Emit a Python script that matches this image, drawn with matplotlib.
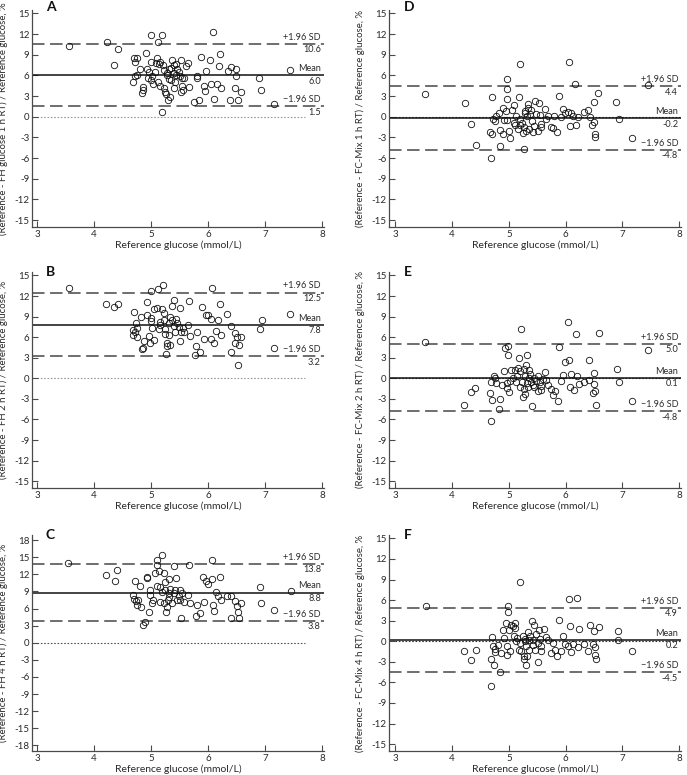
import matplotlib
matplotlib.use("Agg")
import matplotlib.pyplot as plt
import matplotlib.transforms as mtransforms

plt.rcParams['font.family'] = ['Lato', 'DejaVu Sans']
plt.rcParams['axes.unicode_minus'] = False
plt.rcParams['lines.scale_dashes'] = False

# ---- data ----
A_x = [3.56, 4.22, 4.42, 4.35, 4.70, 4.72, 4.75, 4.91, 5.11, 4.99,
       5.00, 5.19, 5.12, 6.09, 4.68, 4.71, 4.76, 4.81, 4.86, 4.85,
       4.84, 4.93, 4.96, 4.95, 5.00, 5.03, 5.12, 5.15, 5.22, 5.24,
       5.26, 5.30, 5.33, 5.19, 5.40, 5.42, 5.54, 5.53, 5.56, 5.66,
       5.75, 5.84, 5.92, 5.95, 6.05, 6.15, 6.23, 6.10, 6.39, 6.53,
       6.48, 6.57, 6.90, 6.93, 7.15, 7.44, 6.35, 6.40, 6.49, 6.49,
       6.19, 6.20, 6.04, 5.88, 5.97, 5.81, 5.80, 5.64, 5.62, 5.52,
       5.57, 5.44, 5.46, 5.49, 5.51, 5.54, 5.37, 5.40, 5.35, 5.31,
       5.27, 5.28, 5.31, 5.35, 5.23, 5.21, 5.16, 5.13, 5.08, 5.40,
       5.43, 5.06, 5.02]
A_y = [10.3, 10.9, 9.9, 7.45, 8.6, 8.0, 8.5, 9.2, 8.5, 8.0,
       11.8, 11.8, 10.9, 12.3, 5.1, 5.9, 6.0, 7.0, 4.35, 3.9,
       3.4, 7.0, 6.5, 5.7, 5.3, 4.7, 5.1, 4.5, 4.2, 3.6,
       3.3, 2.4, 2.9, 0.7, 4.2, 5.1, 4.45, 3.6, 3.9, 4.3,
       2.2, 2.5, 4.5, 3.8, 4.75, 4.75, 4.25, 2.65, 2.4, 2.4,
       4.25, 3.6, 5.65, 3.85, 1.9, 6.8, 6.6, 7.2, 7.0, 5.9,
       7.35, 9.05, 8.2, 8.7, 6.7, 5.9, 5.65, 7.85, 7.35, 8.3,
       5.65, 7.7, 6.9, 6.5, 5.9, 5.7, 8.3, 7.45, 7.05, 6.9,
       6.4, 6.0, 5.55, 5.3, 6.8, 7.45, 7.9, 7.65, 7.8, 6.4,
       6.05, 6.5, 5.9]

B_x = [3.56, 4.20, 4.35, 4.42, 4.70, 4.73, 4.68, 4.68, 4.72, 4.76,
       4.76, 4.82, 4.86, 4.84, 4.87, 4.92, 4.93, 4.96, 4.98, 5.00,
       4.99, 5.00, 5.02, 5.05, 5.05, 5.11, 5.12, 5.13, 5.15, 5.16,
       5.19, 5.21, 5.22, 5.23, 5.25, 5.25, 5.26, 5.27, 5.28, 5.31,
       5.33, 5.31, 5.34, 5.37, 5.40, 5.37, 5.40, 5.42, 5.43, 5.46,
       5.49, 5.51, 5.52, 5.51, 5.56, 5.58, 5.64, 5.66, 5.68, 5.79,
       5.81, 5.77, 5.85, 5.89, 5.92, 5.96, 5.99, 6.05, 6.05, 6.10,
       6.06, 6.13, 6.17, 6.20, 6.23, 6.33, 6.40, 6.40, 6.48, 6.48,
       6.51, 6.54, 6.53, 6.57, 6.91, 6.94, 7.16, 7.44]
B_y = [13.2, 10.9, 10.4, 10.8, 9.7, 8.1, 7.0, 6.3, 6.7, 6.05,
       7.4, 9.0, 4.45, 4.2, 5.4, 9.3, 11.1, 6.1, 5.2, 12.7,
       8.8, 8.3, 7.35, 5.55, 10.05, 10.3, 12.95, 7.15, 7.75, 8.2,
       10.05, 13.65, 9.45, 8.5, 7.25, 6.4, 3.6, 5.2, 4.75, 6.3,
       4.85, 8.0, 8.95, 10.55, 11.45, 8.5, 7.6, 6.8, 8.7, 8.0,
       7.5, 10.25, 6.7, 5.5, 7.35, 6.7, 7.8, 11.2, 6.2, 4.7,
       6.7, 3.4, 3.8, 10.4, 5.7, 9.3, 9.2, 8.7, 5.8, 5.1,
       13.2, 6.85, 8.5, 10.85, 6.3, 9.4, 7.65, 3.8, 6.55, 5.2,
       6.05, 4.9, 1.95, 5.95, 7.25, 8.45, 4.45, 9.35]

C_x = [3.54, 4.20, 4.36, 4.40, 4.68, 4.70, 4.73, 4.75, 4.77, 4.72,
       4.81, 4.83, 4.85, 4.89, 4.92, 4.93, 4.96, 4.98, 4.98, 5.01,
       5.04, 5.06, 5.11, 5.11, 5.14, 5.11, 5.15, 5.16, 5.19, 5.19,
       5.22, 5.23, 5.25, 5.25, 5.26, 5.28, 5.30, 5.31, 5.31, 5.31,
       5.34, 5.37, 5.40, 5.40, 5.43, 5.42, 5.45, 5.49, 5.51, 5.51,
       5.52, 5.54, 5.58, 5.64, 5.66, 5.68, 5.78, 5.81, 5.85, 5.91,
       5.92, 5.97, 5.99, 6.06, 6.06, 6.08, 6.10, 6.14, 6.18, 6.21,
       6.23, 6.33, 6.41, 6.41, 6.48, 6.51, 6.52, 6.54, 6.57, 6.91,
       6.93, 7.16, 7.46]
C_y = [13.9, 11.8, 10.8, 12.75, 8.3, 7.75, 7.35, 6.6, 7.55, 10.85,
       9.9, 6.3, 3.1, 3.65, 11.55, 11.3, 5.4, 9.2, 8.35, 7.0,
       7.45, 12.25, 14.6, 13.6, 12.55, 9.9, 7.2, 9.8, 15.45, 8.9,
       12.15, 6.9, 10.65, 9.2, 5.4, 6.2, 7.45, 11.15, 8.65, 8.1,
       9.5, 6.9, 13.4, 8.65, 11.3, 9.3, 7.45, 8.2, 9.3, 7.55,
       4.4, 8.75, 7.2, 8.35, 13.7, 6.9, 4.65, 6.7, 5.2, 11.45,
       7.2, 10.8, 10.3, 11.1, 14.5, 6.6, 5.6, 8.9, 8.15, 11.55,
       7.45, 8.2, 8.2, 4.4, 7.3, 6.5, 5.4, 4.25, 6.9, 9.8,
       7.05, 5.7, 9.0]

D_x = [3.53, 4.22, 4.34, 4.42, 4.69, 4.71, 4.67, 4.70, 4.72, 4.75,
       4.78, 4.82, 4.84, 4.85, 4.89, 4.90, 4.91, 4.95, 4.96, 4.97,
       4.97, 4.97, 5.00, 5.02, 5.05, 5.09, 5.09, 5.10, 5.12, 5.16,
       5.17, 5.19, 5.20, 5.20, 5.23, 5.25, 5.26, 5.28, 5.27, 5.29,
       5.30, 5.32, 5.33, 5.34, 5.36, 5.37, 5.39, 5.40, 5.42, 5.44,
       5.46, 5.48, 5.51, 5.53, 5.54, 5.56, 5.57, 5.63, 5.66, 5.69,
       5.74, 5.78, 5.80, 5.85, 5.89, 5.92, 5.96, 5.98, 6.04, 6.06,
       6.07, 6.10, 6.13, 6.17, 6.18, 6.22, 6.33, 6.39, 6.42, 6.46,
       6.49, 6.49, 6.52, 6.52, 6.57, 6.89, 6.93, 7.16, 7.45]
D_y = [3.3, 1.95, -1.1, -4.1, -6.05, 2.9, -2.2, -2.5, -0.35, -0.6,
       0.1, 0.5, -4.2, -1.9, -2.5, 1.3, -0.5, 0.9, -0.5, 4.05,
       5.5, 2.6, -2.05, -3.1, 1.05, 1.65, -0.95, -1.2, 0.1, -1.8,
       2.85, -0.35, 7.65, -1.2, -0.85, -2.4, -1.5, 0.6, -4.7, 0.9,
       -2.05, 0.1, 1.9, 1.3, -1.8, 0.35, 1.0, -0.6, -2.2, -1.3,
       2.35, 0.35, -2.05, 2.05, 0.2, -1.0, -1.55, 1.15, -0.35, 0.1,
       -1.5, -1.6, 0.1, -2.2, 3.0, -0.1, 1.15, 0.6, 0.7, 8.0,
       -1.4, 0.6, 0.1, 4.8, -1.2, 0.0, 0.7, 1.0, -0.1, -1.15,
       -0.75, 2.1, -2.5, -3.0, 3.45, 2.15, -0.35, -3.15, 4.6]

E_x = [3.53, 4.21, 4.33, 4.41, 4.67, 4.69, 4.71, 4.73, 4.69, 4.76,
       4.78, 4.83, 4.84, 4.88, 4.92, 4.94, 4.96, 4.96, 4.98, 4.99,
       5.01, 5.02, 5.04, 5.07, 5.10, 5.13, 5.14, 5.16, 5.17, 5.19,
       5.20, 5.22, 5.23, 5.25, 5.26, 5.27, 5.28, 5.29, 5.31, 5.32,
       5.32, 5.34, 5.35, 5.36, 5.38, 5.39, 5.41, 5.42, 5.44, 5.45,
       5.48, 5.51, 5.52, 5.54, 5.56, 5.57, 5.60, 5.63, 5.65, 5.69,
       5.75, 5.78, 5.81, 5.86, 5.89, 5.92, 5.95, 5.98, 6.04, 6.06,
       6.07, 6.09, 6.15, 6.19, 6.20, 6.23, 6.33, 6.41, 6.41, 6.48,
       6.49, 6.49, 6.52, 6.54, 6.58, 6.90, 6.93, 7.16, 7.45]
E_y = [5.3, -3.9, -1.95, -1.4, -2.2, -6.2, -3.2, 0.4, -0.55, 0.0,
       -0.65, -4.5, -3.0, -1.05, 1.0, 4.4, -0.7, -1.4, 3.35, 4.7,
       -2.05, -0.45, 1.25, 0.0, 1.25, -0.55, 0.4, 1.55, 2.95, -1.3,
       1.0, 7.25, -0.55, -2.75, -1.55, 1.4, -2.3, 0.4, 1.9, 3.35,
       -0.65, -1.3, 1.15, 0.0, 0.65, -0.55, -4.1, -1.05, 0.0, -1.3,
       -0.4, -1.8, 0.4, -0.55, -1.15, -1.65, -0.1, 0.9, -0.2, -1.05,
       -1.55, -2.4, -1.8, -3.35, 4.55, -0.4, 0.5, 2.35, 8.2, 2.7,
       -1.3, 0.65, -1.7, 6.4, 0.4, -0.8, -0.55, 2.7, -0.2, -2.15,
       0.8, -0.8, -1.8, -3.85, 6.55, 1.3, -0.55, -3.35, 4.1]

F_x = [3.55, 4.21, 4.33, 4.42, 4.68, 4.68, 4.70, 4.72, 4.73, 4.75,
       4.76, 4.81, 4.84, 4.87, 4.89, 4.91, 4.95, 4.96, 4.96, 4.98,
       4.99, 5.01, 5.02, 5.04, 5.07, 5.09, 5.10, 5.11, 5.13, 5.14,
       5.17, 5.19, 5.20, 5.22, 5.25, 5.26, 5.27, 5.28, 5.29, 5.30,
       5.30, 5.32, 5.33, 5.35, 5.36, 5.37, 5.40, 5.42, 5.43, 5.45,
       5.46, 5.48, 5.51, 5.52, 5.53, 5.54, 5.56, 5.57, 5.61, 5.65,
       5.69, 5.75, 5.78, 5.81, 5.85, 5.89, 5.92, 5.96, 5.99, 6.04,
       6.06, 6.07, 6.10, 6.13, 6.20, 6.21, 6.23, 6.33, 6.39, 6.42,
       6.48, 6.49, 6.51, 6.52, 6.54, 6.58, 6.92, 6.92, 7.16]
F_y = [5.2, -1.45, -2.75, -1.3, -6.55, -2.65, 0.65, -0.75, -3.4, -1.1,
       -1.55, -0.5, -4.5, -1.7, 1.6, 0.5, 2.65, -2.05, -0.65, 4.2,
       5.2, 1.7, -1.45, 2.4, 2.2, 0.8, 2.65, 1.95, 0.0, 0.5,
       -1.2, 8.7, -0.25, -1.45, 0.75, -2.55, -2.1, 0.0, 0.4, -3.4,
       -0.75, -2.2, 1.35, 0.25, -1.2, 0.8, 2.9, -0.5, 0.25, 2.4,
       -1.2, 1.1, -0.25, -3.05, 1.7, 0.4, -1.45, -0.65, 1.8, 0.6,
       0.25, -1.7, -0.25, -1.2, -2.2, 3.15, -1.45, 0.75, -0.35, -0.75,
       6.15, 2.2, -1.6, -0.35, 6.3, -0.85, 1.8, -0.35, -1.45, 2.4,
       -0.35, 1.45, -0.85, -1.95, -2.65, 2.1, 1.45, 0.15, -1.35]

# upper limit, mean, lower limit (as printed on the chart)
A_stats = [10.6, 6.0, 1.5]
B_stats = [12.5, 7.8, 3.2]
C_stats = [13.8, 8.8, 3.8]
D_stats = [4.4, -0.2, -4.8]
E_stats = [5.0, 0.1, -4.8]
F_stats = [4.9, 0.2, -4.5]

letters = ["A", "B", "C", "D", "E", "F"]
ylabels = [
    "(Reference - FH glucose 1 h RT) / Reference glucose, %",
    "(Reference - FH 2 h RT) / Reference glucose, %",
    "(Reference - FH 4 h RT) / Reference glucose, %",
    "(Reference - FC-Mix 1 h RT) / Reference glucose, %",
    "(Reference - FC-Mix 2 h RT) / Reference glucose, %",
    "(Reference - FC-Mix 4 h RT) / Reference glucose, %",
]
xlabel = "Reference glucose (mmol/L)"
xticks = [3, 4, 5, 6, 7, 8]
yticks_15 = [15, 12, 9, 6, 3, 0, -3, -6, -9, -12, -15]
yticks_18 = [18, 15, 12, 9, 6, 3, 0, -3, -6, -9, -12, -15, -18]

xs = [A_x, B_x, C_x, D_x, E_x, F_x]
ys = [A_y, B_y, C_y, D_y, E_y, F_y]
stats = [A_stats, B_stats, C_stats, D_stats, E_stats, F_stats]

# ---- layout (pixels of a 687x775 canvas) ----
W, H = 687.0, 775.0
cols = [(32, 323.8, (2.91, 8.03)), (389, 681, (2.89, 8.03))]
rows = [(10, 227), (272, 488), (535, 751)]

AXIS_COL = "#4a4a4a"
TEXT_COL = "#2a2a2a"

fig = plt.figure(figsize=(6.87, 7.75), dpi=100)

for i in range(6):
    c = i // 3
    r = i % 3
    left, right, xlim = cols[c]
    top, bottom = rows[r]
    ax = fig.add_axes([left / W, 1 - bottom / H, (right - left) / W, (bottom - top) / H])

    upper, mean, lower = stats[i]
    if letters[i] == "C":
        ylim = (-19, 18.9)
        yticks = yticks_18
    else:
        ylim = (-16, 15.5)
        yticks = yticks_15

    # zero line
    zero_end = 7.7 if c == 0 else xlim[1]
    zero_col = "#9a9a9a" if c == 0 else "#333333"
    if letters[i] == "C":
        zero_col = "#555555"
    ax.plot([3.0, zero_end], [0, 0], linestyle=(0, (1.2, 1.2)), color=zero_col, lw=0.8, zorder=1)

    # limits of agreement and mean
    ax.axhline(upper, color="#555555", lw=1.2, linestyle=(0, (9, 4)), zorder=2)
    ax.axhline(lower, color="#555555", lw=1.2, linestyle=(0, (9, 4)), zorder=2)
    ax.axhline(mean, color="#111111", lw=1.1, zorder=2)

    ax.plot(xs[i], ys[i], linestyle="none", marker="o", markersize=4.6,
            markerfacecolor="none", markeredgecolor="#111111", markeredgewidth=0.6, zorder=3)

    # annotations on the right
    xa = 7.98
    for val, name in [(upper, "+1.96 SD"), (mean, "Mean"), (lower, "\u22121.96 SD")]:
        ax.annotate(name, xy=(xa, val), xytext=(0, 1.5), textcoords="offset points",
                    ha="right", va="bottom", fontsize=6.6, color=TEXT_COL)
        ax.annotate(f"{val:.1f}", xy=(xa, val), xytext=(0, -1.0), textcoords="offset points",
                    ha="right", va="top", fontsize=6.6, color=TEXT_COL)

    ax.set_xlim(*xlim)
    ax.set_ylim(*ylim)
    ax.set_xticks(xticks)
    ax.set_yticks(yticks)
    ax.set_xticklabels([str(t) for t in xticks])
    ax.set_yticklabels([str(t) for t in yticks])

    for s in ["top", "right"]:
        ax.spines[s].set_visible(False)
    for s in ["left", "bottom"]:
        ax.spines[s].set_color(AXIS_COL)
        ax.spines[s].set_linewidth(0.9)
    ax.tick_params(direction="in", length=4, width=0.8, color=AXIS_COL,
                   labelsize=7, labelcolor=TEXT_COL, pad=2)

    ax.set_xlabel(xlabel, fontsize=7.5, color=TEXT_COL, labelpad=1)
    ax.set_ylabel(ylabels[i], fontsize=6.9, color=TEXT_COL)
    ax.yaxis.set_label_coords(-24.0 / (right - left), 0.5)

    trans = mtransforms.blended_transform_factory(ax.transData, ax.transAxes)
    ax.text(3.15, 1.0 + (0.012 if r == 0 else 0.0), letters[i], transform=trans,
            fontsize=10, fontweight="bold", va="center", ha="left", color="#111111", clip_on=False)

fig.savefig("out.png", dpi=100)
